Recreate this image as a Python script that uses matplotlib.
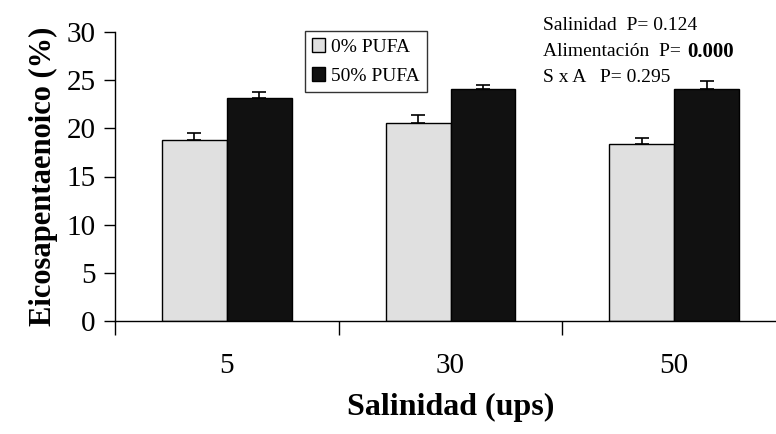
import numpy as np
import matplotlib
matplotlib.use('Agg')
import matplotlib.pyplot as plt

plt.rcParams['font.family'] = ['Liberation Serif', 'DejaVu Serif']

salinidad = ['5', '30', '50']
pufa0 = [18.8, 20.6, 18.4]
pufa0_err = [0.75, 0.8, 0.6]
pufa50 = [23.2, 24.1, 24.1]
pufa50_err = [0.55, 0.4, 0.8]

fig = plt.figure(figsize=(7.76, 4.34), dpi=100)
ax = fig.add_axes([115/776, 1-321/434, 671/776, 289/434])

x = np.arange(len(salinidad))
w = 0.29
ax.bar(x - w/2, pufa0, w, color='#e0e0e0', edgecolor='black', linewidth=1,
       yerr=[np.zeros(3), pufa0_err], capsize=5, error_kw=dict(elinewidth=1.2, capthick=1.2),
       label='0% PUFA')
ax.bar(x + w/2, pufa50, w, color='#111111', edgecolor='black', linewidth=1,
       yerr=[np.zeros(3), pufa50_err], capsize=5, error_kw=dict(elinewidth=1.2, capthick=1.2),
       label='50% PUFA')

ax.set_xlim(-0.5, 2.5)
ax.set_ylim(0, 30)
ax.set_yticks(range(0, 31, 5))
ax.set_xticks([-0.5, 0.5, 1.5, 2.5])
ax.set_xticklabels([])
ax.set_xticks(x, salinidad, minor=True)
ax.tick_params(axis='x', which='major', length=10, width=1, direction='out')
ax.tick_params(axis='x', which='minor', length=0, pad=23, labelsize=21)
ax.tick_params(axis='y', length=8, width=1, direction='out', labelsize=21, pad=6)
for s in ['top', 'right']:
    ax.spines[s].set_visible(False)
ax.spines['left'].set_linewidth(1)
ax.spines['bottom'].set_linewidth(1)

ax.set_xlabel('Salinidad (ups)', fontsize=23, fontweight='bold', labelpad=10)
ax.set_ylabel('Eicosapentaenoico (%)', fontsize=22, fontweight='bold', labelpad=6)

leg = ax.legend(loc='upper left', bbox_to_anchor=(190/671, 1.003), fontsize=14,
                frameon=True, fancybox=False, edgecolor='black', handlelength=0.7,
                handleheight=0.7, handletextpad=0.3, borderpad=0.35, labelspacing=0.6,
                borderaxespad=0)
leg.get_frame().set_linewidth(1)

fig.text(543/776, 1-25/434, 'Salinidad  P= 0.124', fontsize=14, va='center')
t = fig.text(543/776, 1-52/434, 'Alimentación  P= ', fontsize=14, va='center')
fig.canvas.draw()
bb = t.get_window_extent()
fig.text(bb.x1/776 + 2/776, 1-52/434, '0.000', fontsize=15, fontweight='bold', va='center')
fig.text(543/776, 1-77/434, 'S x A   P= 0.295', fontsize=14, va='center')

fig.savefig('out.png', dpi=100)
